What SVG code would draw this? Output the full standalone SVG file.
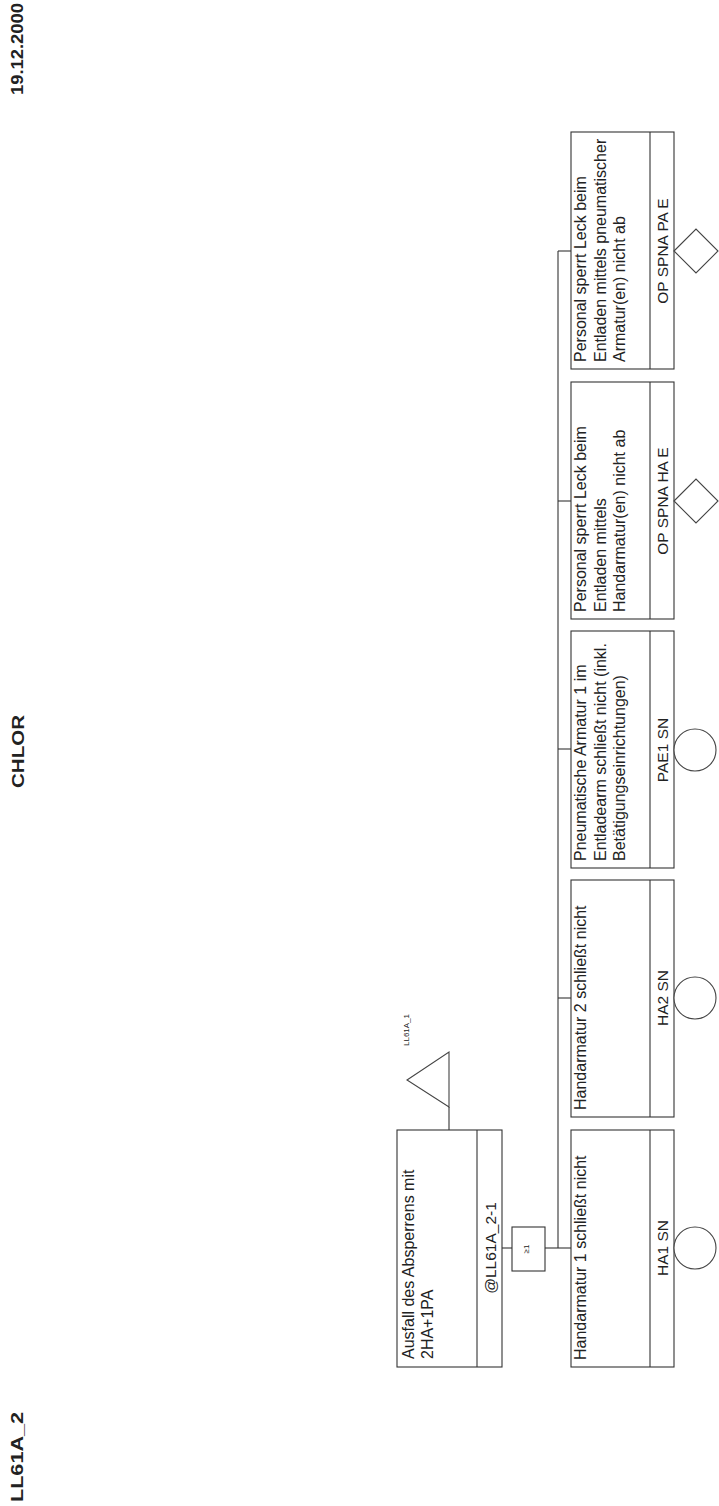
<svg xmlns="http://www.w3.org/2000/svg" width="719" height="1506" viewBox="0 0 719 1506">
<style>
.bx{fill:none;stroke:#333;stroke-width:1.1}
.ln{fill:none;stroke:#333;stroke-width:1.1}
.sym{fill:#fff;stroke:#444;stroke-width:1.1}
.t{font-family:"Liberation Sans",Arial,sans-serif;font-size:16px;fill:#222}
.id{font-family:"Liberation Sans",Arial,sans-serif;font-size:15.5px;fill:#222;text-anchor:middle}
.hdr{font-family:"Liberation Sans",Arial,sans-serif;font-size:16px;font-weight:bold;fill:#222}
.sm{font-family:"Liberation Sans",Arial,sans-serif;font-size:8px;fill:#222}
</style>
<rect width="719" height="1506" fill="#fff"/>
<g id="header">
<text class="hdr" transform="translate(23,95) rotate(-90)" textLength="92" lengthAdjust="spacingAndGlyphs">19.12.2000</text>
<text class="hdr" transform="translate(24,788) rotate(-90)" textLength="73" lengthAdjust="spacingAndGlyphs">CHLOR</text>
<text class="hdr" transform="translate(23,1502) rotate(-90)" textLength="90" lengthAdjust="spacingAndGlyphs">LL61A_2</text>
</g>
<g id="connectors">
<line class="ln" x1="502" y1="1248" x2="512" y2="1248"/>
<line class="ln" x1="545" y1="1248" x2="571" y2="1248"/>
<line class="ln" x1="558" y1="251" x2="558" y2="1248"/>
<line class="ln" x1="558" y1="251" x2="571" y2="251"/>
<line class="ln" x1="558" y1="501" x2="571" y2="501"/>
<line class="ln" x1="558" y1="749" x2="571" y2="749"/>
<line class="ln" x1="558" y1="998" x2="571" y2="998"/>
<line class="ln" x1="449" y1="1107" x2="449" y2="1130"/>
</g>
<g id="top_event">
<rect class="bx" x="397" y="1130" width="105" height="237"/>
<line class="ln" x1="477" y1="1130" x2="477" y2="1367"/>
<text class="t" transform="translate(414,1359) rotate(-90)">Ausfall des Absperrens mit<tspan x="0" dy="19">2HA+1PA</tspan></text>
<text class="id" transform="translate(496,1248) rotate(-90)">@LL61A_2-1</text>
</g>
<g id="transfer_LL61A_1">
<polygon class="sym" points="449,1052 449,1107 407,1080"/>
<text class="sm" transform="translate(409,1046) rotate(-90)">LL61A_1</text>
</g>
<g id="gate_or">
<rect class="bx" x="512" y="1227" width="33" height="44"/>
<text class="sm" text-anchor="middle" transform="translate(529,1249) rotate(-90)">≥1</text>
</g>
<g id="OP_SPNA_PA_E">
<rect class="bx" x="571" y="132" width="103" height="237"/>
<line class="ln" x1="650" y1="132" x2="650" y2="369"/>
<text class="t" transform="translate(586,362) rotate(-90)">Personal sperrt Leck beim<tspan x="0" dy="19.5">Entladen mittels pneumatischer</tspan><tspan x="0" dy="19.5">Armatur(en) nicht ab</tspan></text>
<text class="id" transform="translate(668,251) rotate(-90)">OP SPNA PA E</text>
<polygon class="sym" points="674,251 696,229 718,251 696,273"/>
</g>
<g id="OP_SPNA_HA_E">
<rect class="bx" x="571" y="382" width="103" height="237"/>
<line class="ln" x1="650" y1="382" x2="650" y2="619"/>
<text class="t" transform="translate(586,612) rotate(-90)">Personal sperrt Leck beim<tspan x="0" dy="19.5">Entladen mittels</tspan><tspan x="0" dy="19.5">Handarmatur(en) nicht ab</tspan></text>
<text class="id" transform="translate(668,501) rotate(-90)">OP SPNA HA E</text>
<polygon class="sym" points="674,501 696,479 718,501 696,523"/>
</g>
<g id="PAE1_SN">
<rect class="bx" x="571" y="631" width="103" height="237"/>
<line class="ln" x1="650" y1="631" x2="650" y2="868"/>
<text class="t" transform="translate(586,861) rotate(-90)">Pneumatische Armatur 1 im<tspan x="0" dy="19.5">Entladearm schließt nicht (inkl.</tspan><tspan x="0" dy="19.5">Betätigungseinrichtungen)</tspan></text>
<text class="id" transform="translate(668,750) rotate(-90)">PAE1 SN</text>
<circle class="sym" cx="695" cy="750" r="21"/>
</g>
<g id="HA2_SN">
<rect class="bx" x="571" y="880" width="103" height="237"/>
<line class="ln" x1="650" y1="880" x2="650" y2="1117"/>
<text class="t" transform="translate(586,1110) rotate(-90)">Handarmatur 2 schließt nicht</text>
<text class="id" transform="translate(668,998) rotate(-90)">HA2 SN</text>
<circle class="sym" cx="695" cy="998" r="21"/>
</g>
<g id="HA1_SN">
<rect class="bx" x="571" y="1130" width="103" height="237"/>
<line class="ln" x1="650" y1="1130" x2="650" y2="1367"/>
<text class="t" transform="translate(586,1360) rotate(-90)">Handarmatur 1 schließt nicht</text>
<text class="id" transform="translate(668,1248) rotate(-90)">HA1 SN</text>
<circle class="sym" cx="695" cy="1248" r="21"/>
</g>
</svg>
